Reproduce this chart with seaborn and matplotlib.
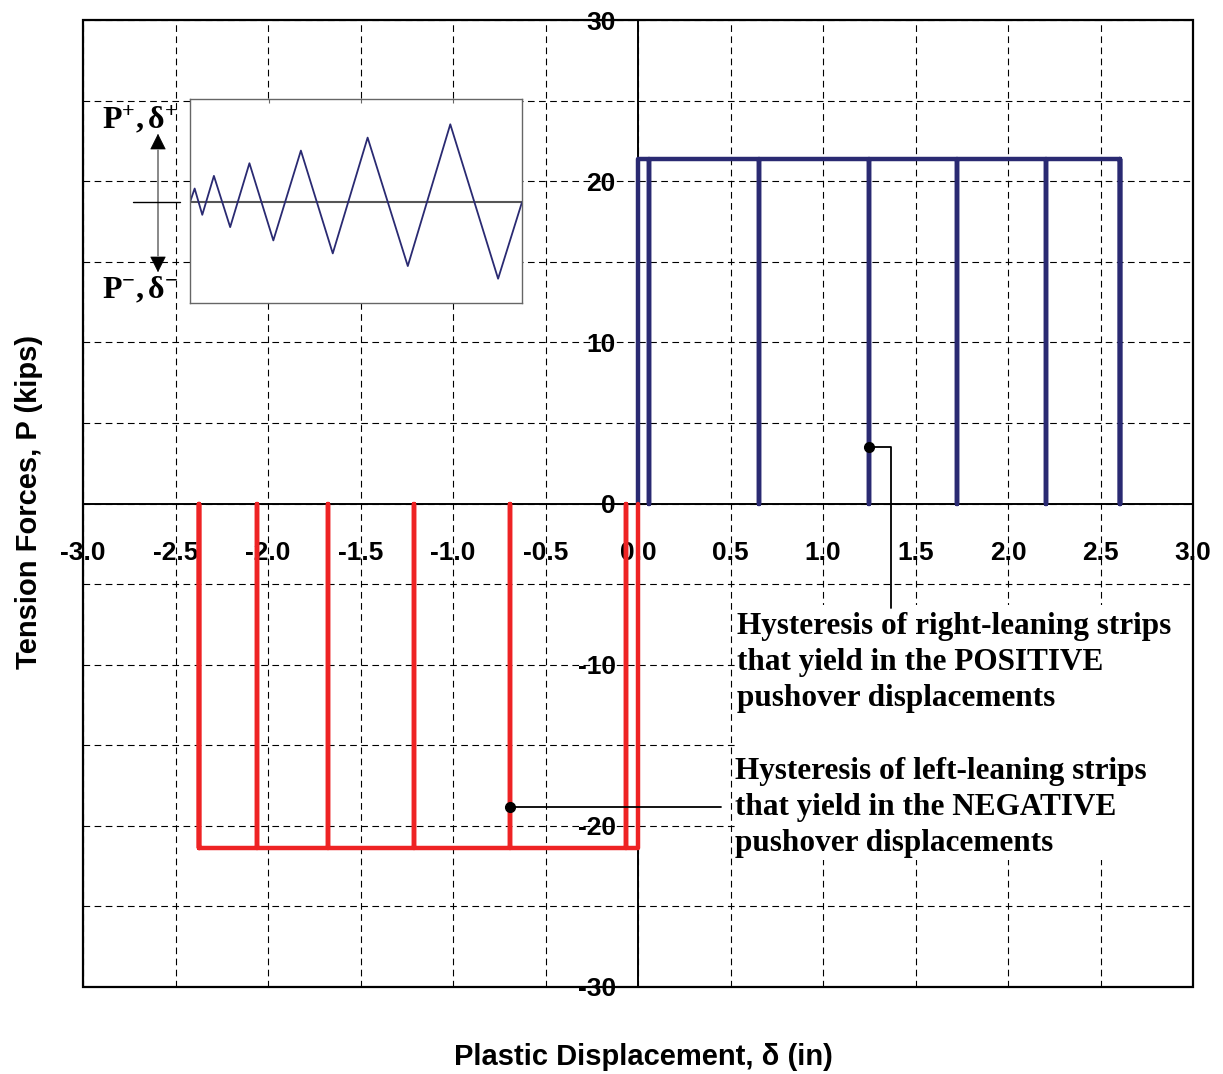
import numpy as np
import pandas as pd
import matplotlib
matplotlib.use("Agg")
import matplotlib.pyplot as plt
import matplotlib.patches as mpatches
from matplotlib import font_manager as fm
import seaborn as sns

# ---------------- data ----------------
p_yield = 21.37                       # kips, yield force of strips
pos_x = [0.0, 0.059, 0.655, 1.25, 1.726, 2.203, 2.606]       # plastic displ. (in), right-leaning
neg_x = [0.0, -0.064, -0.691, -1.210, -1.678, -2.057, -2.373]  # plastic displ. (in), left-leaning

x_ticks = [-3.0, -2.5, -2.0, -1.5, -1.0, -0.5, 0.0, 0.5, 1.0, 1.5, 2.0, 2.5, 3.0]
y_ticks = [-30, -20, -10, 0, 10, 20, 30]
y_minor = [-25, -15, -5, 5, 15, 25]

# inset loading protocol (relative units)
ins_x = [0, 1.4, 3.7, 7.2, 12.1, 17.9, 25.1, 33.4, 43.0, 53.5, 65.6, 78.4, 92.8, 100]
ins_y = [0, 4.1, -3.8, 7.9, -7.5, 11.7, -11.5, 15.5, -15.4, 19.4, -19.2, 23.4, -23.0, 0]

label_pos = "Hysteresis of right-leaning strips\nthat yield in the POSITIVE\npushover displacements"
label_neg = "Hysteresis of left-leaning strips\nthat yield in the NEGATIVE\npushover displacements"


def hysteresis_path(xs, p):
    px, py = [xs[0], xs[0]], [0.0, p]
    for xi in xs[1:]:
        px += [xi, xi, xi]
        py += [p, 0.0, p]
    px.append(xs[-1])
    py.append(0.0)
    return pd.DataFrame({"x": px, "P": py})


df_pos = hysteresis_path(pos_x, p_yield)
df_neg = hysteresis_path(neg_x, -p_yield)
df_ins = pd.DataFrame({"t": ins_x, "v": ins_y})


def pick_bold(cands):
    for fam in cands:
        for f in fm.fontManager.ttflist:
            w = f.weight
            if f.name == fam and (w == "bold" or (isinstance(w, int) and w >= 600)):
                return fam
    return cands[-1]


SANS = pick_bold(["Liberation Sans", "Arimo", "Roboto", "Noto Sans", "DejaVu Sans"])
SERIF = pick_bold(["Liberation Serif", "Tinos", "Noto Serif", "DejaVu Serif"])

# ---------------- style ----------------
sns.set_style("white")
plt.rcParams["font.family"] = [SANS, "DejaVu Sans"]
plt.rcParams["axes.unicode_minus"] = False
plt.rcParams["text.color"] = "black"
plt.rcParams["axes.labelcolor"] = "black"
plt.rcParams["xtick.color"] = "black"
plt.rcParams["ytick.color"] = "black"
plt.rcParams["mathtext.fontset"] = "custom"
plt.rcParams["mathtext.rm"] = SERIF
plt.rcParams["mathtext.bf"] = SERIF + ":bold"
plt.rcParams["mathtext.it"] = SERIF + ":italic"

W, H = 1223, 1074
fig = plt.figure(figsize=(W / 100, H / 100), dpi=100)
fig.patch.set_facecolor("white")

ax = fig.add_axes([83 / W, 1 - 987 / H, 1110 / W, 967 / H])
ax.set_facecolor("white")

blue = "#2A2A72"
red = "#EE2324"

sns.lineplot(data=df_pos, x="x", y="P", sort=False, estimator=None,
             color=blue, lw=3.2, ax=ax, zorder=3)
sns.lineplot(data=df_neg, x="x", y="P", sort=False, estimator=None,
             color=red, lw=3.2, ax=ax, zorder=3)

ax.set_xlim(-3, 3)
ax.set_ylim(-30, 30)

for s in ["top", "right"]:
    ax.spines[s].set_visible(False)
ax.spines["left"].set_position(("data", 0))
ax.spines["bottom"].set_position(("data", 0))
for s in ["left", "bottom"]:
    ax.spines[s].set_color("black")
    ax.spines[s].set_linewidth(1.4)
    ax.spines[s].set_zorder(2)
ax.add_patch(mpatches.Rectangle((0, 0), 1, 1, transform=ax.transAxes, fill=False,
                                lw=1.6, ec="black", clip_on=False, zorder=6))

ax.set_xticks(x_ticks)
ax.set_xticklabels([f"{v:.1f}" for v in x_ticks], fontweight="bold", family=SANS,
                   color="black")
ax.set_yticks(y_ticks)
ax.set_yticklabels([f"{v:d}" for v in y_ticks], fontweight="bold", family=SANS,
                   color="black")
ax.set_yticks(y_minor, minor=True)
ax.tick_params(axis="x", direction="out", length=8, width=1.3, pad=19,
               labelsize=19, colors="black")
ax.tick_params(axis="y", which="major", direction="out", length=12, width=1.3,
               pad=4, labelsize=19, colors="black")
ax.tick_params(axis="y", which="minor", direction="out", length=4, width=1.0,
               colors="black")

ax.grid(True, which="major", axis="x", color="black", lw=0.8, ls=(0, (6, 4)))
ax.grid(True, which="both", axis="y", color="black", lw=0.8, ls=(0, (6, 4)))
ax.set_axisbelow(True)

ax.set_xlabel("Plastic Displacement, δ (in)", fontsize=21, fontweight="bold",
              family=SANS, color="black")
ax.set_ylabel("Tension Forces, P (kips)", fontsize=21, fontweight="bold",
              family=SANS, color="black")
ax.xaxis.set_label_coords(0.5045, -0.058)
ax.yaxis.set_label_coords(-0.036, 0.5015)

# white panel behind the annotation text (hides grid)
ax.add_patch(mpatches.Rectangle((0.523, -22.1), 2.465, 15.8, facecolor="white",
                                edgecolor="none", zorder=1))

# annotations
ax.plot([1.25], [3.5], "o", color="black", ms=7, zorder=5)
ax.plot([1.25, 1.37, 1.37], [3.5, 3.5, -6.5], color="black", lw=1.3, zorder=4)
ax.text(0.535, -6.75, label_pos, ha="left", va="top", fontsize=22.5,
        fontweight="bold", family=SERIF, linespacing=1.31, zorder=5, color="black")

ax.plot([-0.691], [-18.84], "o", color="black", ms=7, zorder=5)
ax.plot([-0.691, 0.447], [-18.84, -18.84], color="black", lw=1.3, zorder=4)
ax.text(0.525, -15.75, label_neg, ha="left", va="top", fontsize=22.5,
        fontweight="bold", family=SERIF, linespacing=1.31, zorder=5, color="black")

# ---------------- inset ----------------
axi = fig.add_axes([190 / W, 1 - 303 / H, 332 / W, 204 / H], zorder=5)
axi.set_facecolor("white")
sns.lineplot(data=df_ins, x="t", y="v", sort=False, estimator=None,
             color=blue, lw=1.3, ax=axi)
axi.axhline(0, color="#555555", lw=1.5, zorder=1)
axi.set_xlim(0, 100)
axi.set_ylim(-30.3, 31)
axi.set_xlabel("")
axi.set_ylabel("")
axi.set_xticks([23.8, 51.5, 79.1])
axi.set_yticks([])
axi.tick_params(axis="x", top=True, bottom=False, labeltop=False, labelbottom=False,
                direction="in", length=3, width=0.8, colors="#666666")
for s in axi.spines.values():
    s.set_color("#666666")
    s.set_linewidth(1.0)

# inset legend arrows / labels
fig.add_artist(plt.Line2D([158 / W, 158 / W], [1 - 150 / H, 1 - 256 / H],
                          transform=fig.transFigure, color="#888888", lw=1.4))
fig.add_artist(mpatches.FancyArrowPatch((158 / W, 1 - 150 / H), (158 / W, 1 - 131 / H),
                                        transform=fig.transFigure, arrowstyle="-|>",
                                        mutation_scale=26, color="black", lw=0.5))
fig.add_artist(mpatches.FancyArrowPatch((158 / W, 1 - 256 / H), (158 / W, 1 - 275 / H),
                                        transform=fig.transFigure, arrowstyle="-|>",
                                        mutation_scale=26, color="black", lw=0.5))
fig.add_artist(plt.Line2D([133 / W, 180 / W], [1 - 202 / H, 1 - 202 / H],
                          transform=fig.transFigure, color="black", lw=1.0))
fig.text(178 / W, 1 - 120 / H, r"$\mathbf{P^{+}, δ^{+}}$", ha="right", va="center",
         fontsize=23, color="black")
fig.text(178 / W, 1 - 290 / H, r"$\mathbf{P^{-}, δ^{-}}$", ha="right", va="center",
         fontsize=23, color="black")

fig.savefig("out.png", dpi=100, facecolor="white")
